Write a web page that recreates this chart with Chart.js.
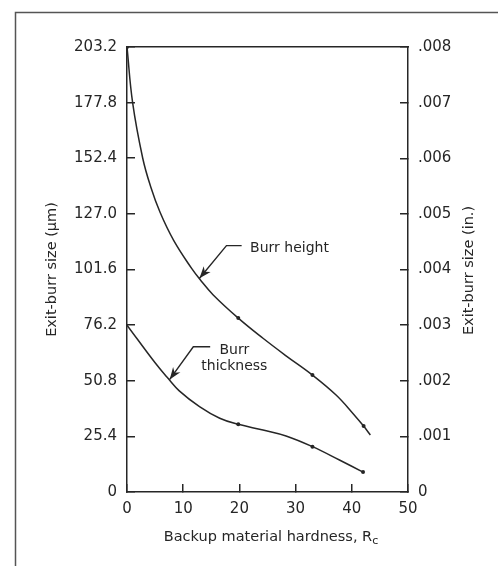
<!DOCTYPE html>
<html><head><meta charset="utf-8">
<script src="https://cdn.jsdelivr.net/npm/chart.js@4.4.0/dist/chart.umd.min.js"></script>
<style>html,body{margin:0;padding:0;background:#fff;}</style>
</head><body>
<canvas id="c" width="498" height="566"></canvas>
<script>
// ---- data ----
const xTicks = [0, 10, 20, 30, 40, 50];
const yTicksUm = [0, 25.4, 50.8, 76.2, 101.6, 127.0, 152.4, 177.8, 203.2];
const yTicksIn = [0, 0.001, 0.002, 0.003, 0.004, 0.005, 0.006, 0.007, 0.008];

// Burr height curve (traced)
const heightX = [0, 1.0, 2.8, 4.2, 5.9, 8.3, 11.5, 13, 15.3, 19.8, 24.2, 28.3, 33, 37.2, 40.2, 42.1, 43.3];
const heightY = [203.2, 177.8, 152.4, 139.5, 127.6, 114.9, 102.1, 97.0, 90.1, 79.4, 70.2, 62.2, 53.4, 44.3, 35.9, 30.1, 26];
// Burr thickness curve (traced)
const thickX = [0, 5, 7.3, 9.3, 12.9, 16.5, 19.8, 24.2, 28.3, 33, 37.8, 42];
const thickY = [76.2, 59, 51.9, 46.2, 39, 33.7, 30.9, 28.3, 25.6, 20.7, 14.6, 9.1];
// measured points (dots)
const heightPtX = [0, 19.8, 33, 42.1];
const heightPtY = [203.2, 79.4, 53.4, 30.1];
const thickPtX = [19.8, 33, 42];
const thickPtY = [30.9, 20.7, 9.1];

const xTitle = 'Backup material hardness, R';
const xTitleSub = 'c';
const yTitleLeft = 'Exit-burr size (\u00b5m)';
const yTitleRight = 'Exit-burr size (in.)';
const labelHeight = 'Burr height';
const labelThick = ['Burr', 'thickness'];

const INK = '#262626';
const FONT = 'DejaVu Sans';
Chart.defaults.font.family = FONT;
Chart.defaults.color = INK;

const pts = (xs, ys) => xs.map((x, i) => ({x: x, y: ys[i]}));

const frame = {
  id: 'frame',
  beforeDraw(chart) {
    const ctx = chart.ctx;
    ctx.save();
    ctx.fillStyle = '#fff';
    ctx.fillRect(0, 0, chart.width, chart.height);
    ctx.strokeStyle = '#555';
    ctx.lineWidth = 1.5;
    ctx.beginPath();
    ctx.moveTo(15.5, chart.height);
    ctx.lineTo(15.5, 12.5);
    ctx.lineTo(chart.width, 12.5);
    ctx.stroke();
    ctx.restore();
  }
};

function arrow(ctx, pts) {
  ctx.beginPath();
  ctx.moveTo(pts[0][0], pts[0][1]);
  for (let i = 1; i < pts.length; i++) ctx.lineTo(pts[i][0], pts[i][1]);
  ctx.stroke();
  const [ax, ay] = pts[pts.length - 2];
  const [tx, ty] = pts[pts.length - 1];
  const ang = Math.atan2(ty - ay, tx - ax);
  const L = 12, W = 4.5;
  ctx.save();
  ctx.translate(tx, ty);
  ctx.rotate(ang);
  ctx.beginPath();
  ctx.moveTo(0, 0);
  ctx.lineTo(-L, -W);
  ctx.lineTo(-L * 0.7, 0);
  ctx.lineTo(-L, W);
  ctx.closePath();
  ctx.fill();
  ctx.restore();
}

const extras = {
  id: 'extras',
  afterDraw(chart) {
    const ctx = chart.ctx;
    const sx = chart.scales.x, sy = chart.scales.y;
    const P = (x, y) => [sx.getPixelForValue(x), sy.getPixelForValue(y)];
    ctx.save();
    ctx.fillStyle = INK;
    ctx.strokeStyle = INK;
    ctx.lineWidth = 1.4;
    // annotations
    arrow(ctx, [P(20.4, 112.5), P(17.7, 112.5), P(12.9, 97.6)]);
    arrow(ctx, [P(14.8, 66.3), P(11.8, 66.3), P(7.6, 51.4)]);
    ctx.font = '14px ' + FONT;
    ctx.textBaseline = 'middle';
    ctx.textAlign = 'left';
    let p = P(21.9, 111.4);
    ctx.fillText(labelHeight, p[0], p[1]);
    ctx.textAlign = 'center';
    p = P(19.1, 64.8);
    ctx.fillText(labelThick[0], p[0], p[1]);
    p = P(19.1, 57.3);
    ctx.fillText(labelThick[1], p[0], p[1]);
    // right axis title (reads bottom-to-top)
    const ca = chart.chartArea;
    ctx.font = '14.5px ' + FONT;
    ctx.save();
    ctx.translate(469, (ca.top + ca.bottom) / 2 + 1);
    ctx.rotate(-Math.PI / 2);
    ctx.textAlign = 'center';
    ctx.fillText(yTitleRight, 0, 0);
    ctx.restore();
    // x axis title with subscript
    const wMain = ctx.measureText(xTitle).width;
    ctx.font = '11px ' + FONT;
    const wSub = ctx.measureText(xTitleSub).width;
    const cx = 271, cy = 537;
    const x0 = cx - (wMain + wSub) / 2;
    ctx.textAlign = 'left';
    ctx.font = '14.5px ' + FONT;
    ctx.fillText(xTitle, x0, cy);
    ctx.font = '11px ' + FONT;
    ctx.fillText(xTitleSub, x0 + wMain, cy + 4);
    ctx.restore();
  }
};

const tickFont = {family: FONT, size: 15};
const gridOpts = {drawOnChartArea: false, drawTicks: true, tickLength: -8, color: INK, lineWidth: 1.5};
const borderOpts = {display: true, color: INK, width: 1.5};

new Chart(document.getElementById('c'), {
  type: 'line',
  data: {
    datasets: [
      {data: pts(heightX, heightY), borderColor: INK, borderWidth: 1.5, pointRadius: 0, tension: 0.4, fill: false},
      {data: pts(thickX, thickY), borderColor: INK, borderWidth: 1.5, pointRadius: 0, tension: 0.4, fill: false},
      {data: pts(heightPtX, heightPtY), showLine: false, pointRadius: 2, pointBackgroundColor: INK, pointBorderWidth: 0},
      {data: pts(thickPtX, thickPtY), showLine: false, pointRadius: 2, pointBackgroundColor: INK, pointBorderWidth: 0}
    ]
  },
  options: {
    responsive: false,
    animation: false,
    devicePixelRatio: 1,
    layout: {padding: {top: 47, left: 0, right: 0, bottom: 0}},
    plugins: {legend: {display: false}, tooltip: {enabled: false}},
    scales: {
      x: {
        type: 'linear', position: 'bottom', min: 0, max: 50,
        afterBuildTicks: s => { s.ticks = xTicks.map(v => ({value: v})); },
        afterFit: s => { s.height = 74; },
        grid: gridOpts, border: borderOpts,
        ticks: {padding: 16, font: tickFont, color: INK, maxRotation: 0, autoSkip: false}
      },
      xTop: {
        type: 'linear', position: 'top', min: 0, max: 50, display: true,
        afterFit: s => { s.height = 0; },
        grid: {display: false, drawTicks: false}, border: borderOpts,
        ticks: {display: false}
      },
      y: {
        type: 'linear', position: 'left', min: 0, max: 203.2,
        afterBuildTicks: s => { s.ticks = yTicksUm.map(v => ({value: v})); },
        afterFit: s => { s.width = 127; },
        grid: gridOpts, border: borderOpts,
        ticks: {padding: 18, font: tickFont, color: INK, autoSkip: false,
          callback: v => v === 0 ? '0' : v.toFixed(1)},
        title: {display: true, text: yTitleLeft, font: {family: FONT, size: 14.5}, color: INK, padding: {top: 44, bottom: 0}}
      },
      y2: {
        type: 'linear', position: 'right', min: 0, max: 0.008,
        afterBuildTicks: s => { s.ticks = yTicksIn.map(v => ({value: v})); },
        afterFit: s => { s.width = 90; },
        grid: gridOpts, border: borderOpts,
        ticks: {padding: 18, font: tickFont, color: INK, autoSkip: false,
          callback: v => v === 0 ? '0' : v.toFixed(3).slice(1)}
      }
    }
  },
  plugins: [frame, extras]
});
</script>
</body></html>
